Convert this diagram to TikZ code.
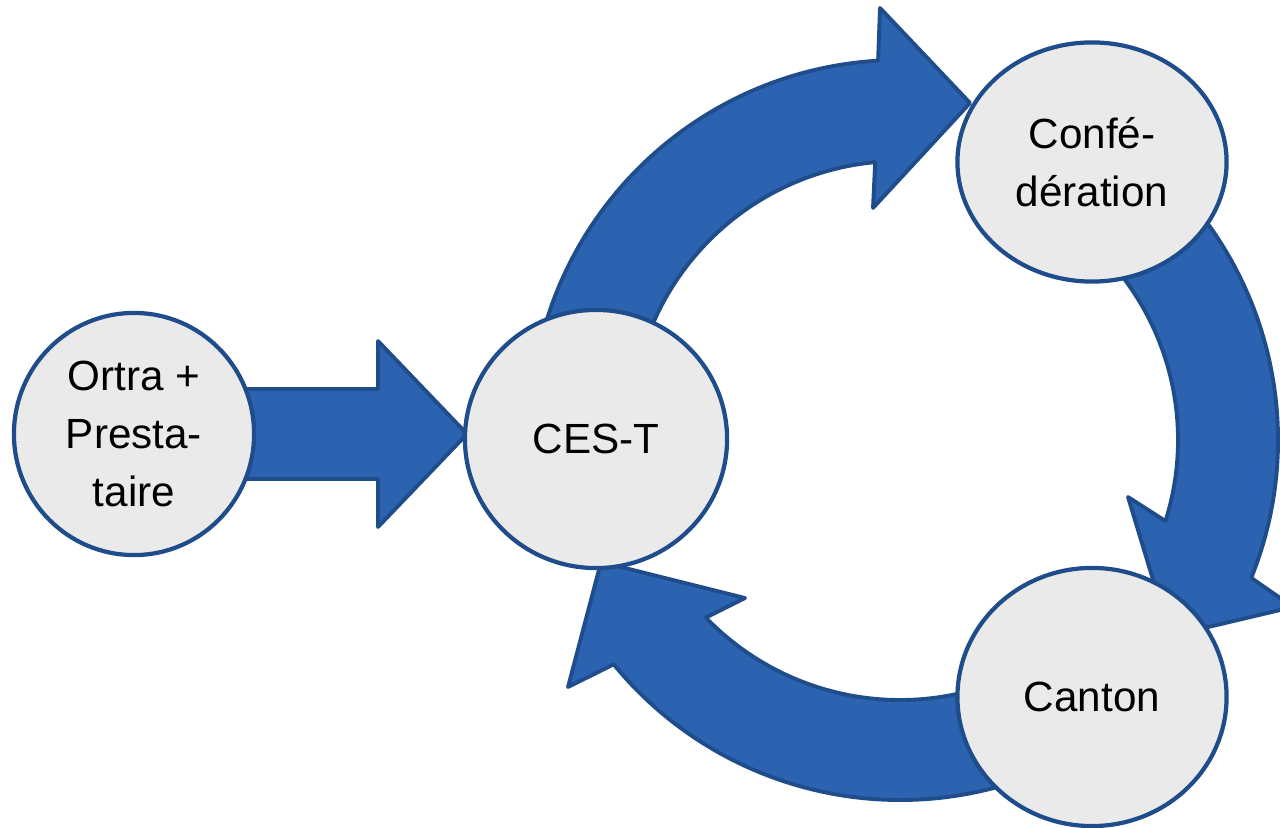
\documentclass[tikz,border=0pt]{standalone}
\usepackage{fontspec}
\setmainfont{Liberation Sans}
\usetikzlibrary{shapes,shapes.geometric,calc,positioning,backgrounds}
\definecolor{arrowblue}{RGB}{44,99,176}
\definecolor{edgeblue}{RGB}{31,76,138}
\definecolor{discgray}{RGB}{234,234,234}

\begin{document}
\begin{tikzpicture}
	[x=0.01cm,y=0.01cm,
	every node/.style={shape=ellipse,inner sep=1pt,draw=edgeblue,line width=1.2pt,
		fill=discgray,align=center,font={\fontsize{12pt}{16.5pt}\selectfont}},
	blockarrow/.style={draw=edgeblue,fill=arrowblue,line width=1.1pt,line join=round}]
	\clip (0,0) rectangle (1280,827);
	\node[minimum width=2.4cm,minimum height=2.42cm] (ortra) at (134,393) {Ortra +\\Presta-\\taire};
	\node[minimum width=2.62cm,minimum height=2.58cm] (cest) at (596,388) {CES-T};
	\node[minimum width=2.69cm,minimum height=2.39cm] (conf) at (1092,665) {Conf\'e-\\d\'eration};
	\node[minimum width=2.69cm,minimum height=2.58cm] (canton) at (1092,130) {Canton};
	\coordinate (ring) at (900,397);

	\begin{scope}[on background layer]
		% straight arrow into CES-T
		\draw[blockarrow] ($(ortra)+(0,45)$) -- ++(244,0) -- ++(0,48) -- ($(ortra)+(333,0)$)
			-- ++(-89,-93) -- ++(0,48) -- ++(-244,0) -- cycle;
		% cycle arrows
		\begin{scope}[shift={(ring)}]
			\draw[blockarrow] (172:370) arc[start angle=172,end angle=93.4,radius=370]
				-- (-20,422) -- (70,327) -- (-27,222)
				-- (95.3:269) arc[start angle=95.3,end angle=172,radius=269] -- cycle;
			\draw[blockarrow] (295:370) arc[start angle=295,end angle=219.3,radius=370]
				-- (-332,-257) -- (-299,-132) -- (-155,-168)
				-- (224:270) arc[start angle=224,end angle=295,radius=270] -- cycle;
		\end{scope}
		\begin{scope}[shift={($(ring)+(10,-10)$)}]
			\draw[blockarrow] (50:368) arc[start angle=50,end angle=-22,radius=368]
				-- (383,-167) -- (260,-196) -- (218,-57)
				-- (-17.6:268) arc[start angle=-17.6,end angle=50,radius=268] -- cycle;
		\end{scope}
	\end{scope}
\end{tikzpicture}
\end{document}
